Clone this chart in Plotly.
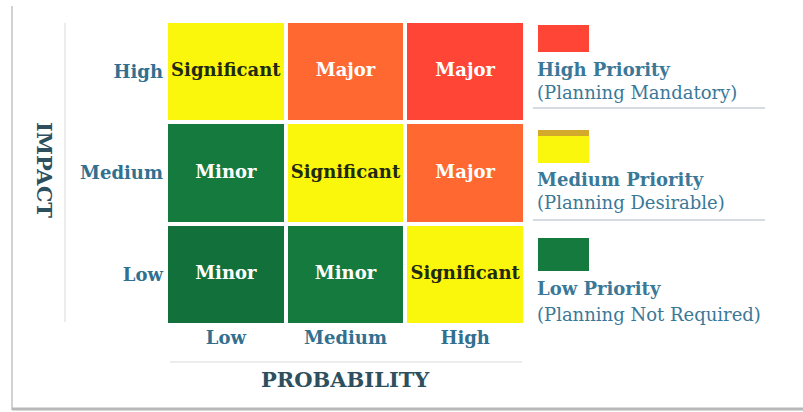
import plotly.graph_objects as go

# ---- data ----
probability = ["Low", "Medium", "High"]
impact = ["Low", "Medium", "High"]
risk_labels = [
    ["Minor", "Minor", "Significant"],      # impact Low
    ["Minor", "Significant", "Major"],      # impact Medium
    ["Significant", "Major", "Major"],      # impact High
]
risk_scores = [
    [0, 1, 2],
    [1, 2, 3],
    [2, 3, 4],
]
legend_titles = ["High Priority", "Medium Priority", "Low Priority"]
legend_notes = ["(Planning Mandatory)", "(Planning Desirable)", "(Planning Not Required)"]

# ---- style ----
SERIF = "DejaVu Serif"
BLUE = "#32708f"
LBLUE = "#3b7898"
DARK = "#2e4f5e"
GREEN = "#157a3d"
YELLOW = "#fbf70c"
ORANGE = "#ff6830"
RED = "#ff4535"
colorscale = [[0.0, "#12713a"], [0.25, GREEN], [0.5, YELLOW], [0.75, ORANGE], [1.0, RED]]
text_color = {"Minor": "white", "Major": "white", "Significant": "#1f2a12"}
legend_colors = [RED, YELLOW, GREEN]

W, H = 803, 412
ML, MR, MT, MB = 166, W - 525, 21, H - 325
PW, PH = W - ML - MR, H - MT - MB

def px(x): return (x - ML) / PW
def py(y): return 1 - (y - MT) / PH

fig = go.Figure()
fig.add_trace(go.Heatmap(
    x=probability, y=impact, z=risk_scores,
    colorscale=colorscale, zmin=0, zmax=4, showscale=False,
    xgap=4, ygap=4, hoverinfo="skip",
))

xs, ys, ts, cs = [], [], [], []
for i, imp in enumerate(impact):
    for j, prob in enumerate(probability):
        xs.append(prob); ys.append(imp)
        ts.append(risk_labels[i][j]); cs.append(text_color[risk_labels[i][j]])
fig.add_trace(go.Scatter(
    x=xs, y=ys, text=ts, mode="text",
    textfont=dict(family=SERIF, size=18, color=cs, weight="bold"),
    hoverinfo="skip", showlegend=False,
))

shapes = []
# decorative frame lines
shapes.append(dict(type="line", xref="paper", yref="paper", x0=px(12), x1=px(12), y0=py(6), y1=py(410),
                   line=dict(color="#d2d2d2", width=2)))
shapes.append(dict(type="line", xref="paper", yref="paper", x0=px(12), x1=px(803), y0=py(409), y1=py(409),
                   line=dict(color="#b8b8b8", width=3)))
shapes.append(dict(type="line", xref="paper", yref="paper", x0=px(65), x1=px(65), y0=py(23), y1=py(322),
                   line=dict(color="#ececec", width=2)))
shapes.append(dict(type="line", xref="paper", yref="paper", x0=px(170), x1=px(522), y0=py(362), y1=py(362),
                   line=dict(color="#ededed", width=2)))

# legend
sw_tops = [25, 130, 238]
sw_h = [27, 33, 33]
title_y = [69, 179, 288]
note_y = [93, 202, 314]
sep_y = [108, 220]
annotations = []
for k in range(3):
    shapes.append(dict(type="rect", xref="paper", yref="paper",
                       x0=px(538), x1=px(589), y0=py(sw_tops[k]), y1=py(sw_tops[k] + sw_h[k]),
                       fillcolor=legend_colors[k], line=dict(width=0)))
    annotations.append(dict(xref="paper", yref="paper", x=px(535), y=py(title_y[k]), xanchor="left", yanchor="middle",
                            text="<b>" + legend_titles[k] + "</b>", showarrow=False,
                            font=dict(family=SERIF, size=18, color=LBLUE)))
    annotations.append(dict(xref="paper", yref="paper", x=px(535), y=py(note_y[k]), xanchor="left", yanchor="middle",
                            text=legend_notes[k], showarrow=False,
                            font=dict(family=SERIF, size=18, color=LBLUE)))
# darker strip on top of the medium swatch
shapes.append(dict(type="rect", xref="paper", yref="paper",
                   x0=px(538), x1=px(589), y0=py(130), y1=py(136),
                   fillcolor="#d2aa2c", line=dict(width=0)))
for sy in sep_y:
    shapes.append(dict(type="line", xref="paper", yref="paper", x0=px(533), x1=px(765), y0=py(sy), y1=py(sy),
                       line=dict(color="#d5dbe0", width=2)))

annotations.append(dict(xref="paper", yref="paper", x=px(345), y=py(379), xanchor="center", yanchor="middle",
                        text="<b>PROBABILITY</b>", showarrow=False,
                        font=dict(family=SERIF, size=21, color=DARK)))
annotations.append(dict(xref="paper", yref="paper", x=px(44), y=py(170), xanchor="center", yanchor="middle",
                        text="<b>IMPACT</b>", showarrow=False, textangle=90,
                        font=dict(family=SERIF, size=21, color=DARK)))

fig.update_layout(
    width=W, height=H,
    margin=dict(l=ML, r=MR, t=MT, b=MB),
    paper_bgcolor="white", plot_bgcolor="white",
    shapes=shapes, annotations=annotations, showlegend=False,
    xaxis=dict(type="category", categoryorder="array", categoryarray=probability,
               showgrid=False, zeroline=False, showline=False, ticks="",
               tickfont=dict(family=SERIF, size=18, color=BLUE, weight="bold"),
               fixedrange=True),
    yaxis=dict(type="category", categoryorder="array", categoryarray=impact,
               showgrid=False, zeroline=False, showline=False, ticks="",
               tickfont=dict(family=SERIF, size=18, color=BLUE, weight="bold"),
               ticklabelstandoff=2, fixedrange=True),
)

fig.write_html("out.html")
